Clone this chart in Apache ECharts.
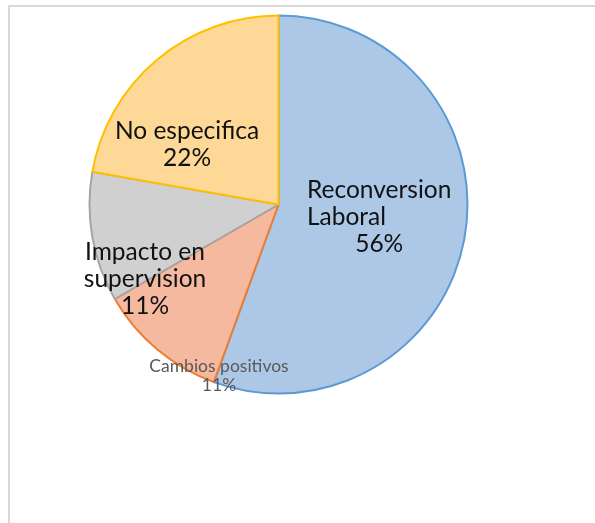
<!DOCTYPE html>
<html>
<head>
<meta charset="utf-8">
<script src="https://cdn.jsdelivr.net/npm/echarts@6/dist/echarts.min.js"></script>
<style>
  html, body { margin: 0; padding: 0; background: #ffffff; }
  #chart { width: 595px; height: 523px; }
</style>
</head>
<body>
<div id="chart"></div>
<script>
// Categories and counts for the pie
const categories = ['Reconversion Laboral', 'Cambios positivos', 'Impacto en supervision', 'No especifica'];
const counts = [5, 1, 1, 2];

// How each category name wraps inside its label
const wrappedNames = [
  ['Reconversion', 'Laboral'],
  ['Cambios positivos'],
  ['Impacto en', 'supervision'],
  ['No especifica']
];

// Slice fill and outline colours
const fills = ['#adc8e7', '#f5b9a0', '#d0d0d0', '#fdd897'];
const outlines = ['#5b9bd5', '#ed7d31', '#a5a5a5', '#ffc000'];

// Label anchor points (pixels) and text sizes
const labelAnchors = [
  { x: 307, y: 217, align: 'left' },
  { x: 219, y: 376, align: 'center' },
  { x: 145, y: 279, align: 'center' },
  { x: 187, y: 145, align: 'center' }
];
const labelFont = 'Lato';
const bigFont = 24.5;
const smallFont = 17.5;

const chart = echarts.init(document.getElementById('chart'), null, { renderer: 'canvas' });

function labelFor(i) {
  const small = i === 1;
  const size = small ? smallFont : bigFont;
  const color = small ? '#595959' : '#111111';
  const lh = small ? 19 : 27;
  return {
    show: true,
    position: 'inside',
    fontFamily: labelFont,
    fontSize: size,
    lineHeight: lh,
    color: color,
    formatter: function (p) {
      const pct = Math.round(p.percent) + '%';
      const lines = wrappedNames[p.dataIndex].map(function (s) { return '{t|' + s + '}'; });
      return lines.join('\n') + '\n{p|' + pct + '}';
    },
    rich: {
      t: {
        fontFamily: labelFont, fontSize: size, lineHeight: lh, color: color,
        align: labelAnchors[i].align
      },
      p: {
        fontFamily: labelFont, fontSize: size, lineHeight: lh, color: color,
        align: 'center'
      }
    }
  };
}

const data = categories.map(function (name, i) {
  return {
    name: name,
    value: counts[i],
    itemStyle: { color: fills[i], borderColor: outlines[i], borderWidth: 2 },
    label: labelFor(i)
  };
});

chart.setOption({
  animation: false,
  backgroundColor: '#ffffff',
  graphic: [{
    type: 'rect',
    shape: { x: 9, y: 6, width: 600, height: 530 },
    style: { fill: 'none', stroke: '#d9d9d9', lineWidth: 2 },
    silent: true,
    z: 0
  }],
  series: [{
    type: 'pie',
    center: [278.5, 204.5],
    radius: [0, 189],
    startAngle: 90,
    clockwise: true,
    avoidLabelOverlap: false,
    labelLine: { show: false },
    emphasis: { disabled: true },
    data: data,
    labelLayout: function (params) {
      const a = labelAnchors[params.dataIndex];
      let x = a.x;
      if (a.align === 'left') { x = a.x + params.labelRect.width / 2; }
      return { x: x, y: a.y, align: 'center', verticalAlign: 'middle' };
    }
  }]
});
</script>
</body>
</html>
